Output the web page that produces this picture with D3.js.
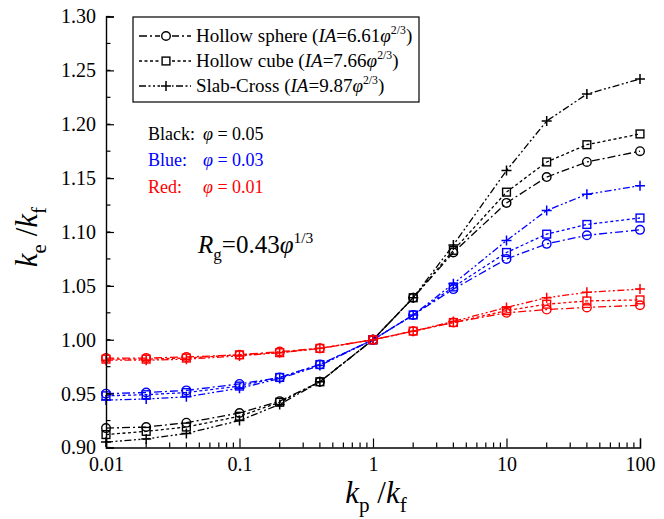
<!DOCTYPE html>
<html>
<head>
<meta charset="utf-8">
<script src="https://cdn.jsdelivr.net/npm/d3@7"></script>
<style>
  html, body { margin: 0; padding: 0; background: #fff; }
  svg { display: block; }
  svg text { font-family: "Liberation Serif", "DejaVu Serif", serif; }
</style>
</head>
<body>
<svg id="chart" width="664" height="519"></svg>
<script>
// Effective conductivity ratio vs. particle/fluid conductivity ratio
const kpRatio = [0.01, 0.02, 0.04, 0.1, 0.2, 0.4, 1, 2, 4, 10, 20, 40, 100];

// phi = 0.05 (black)
const sphere05 = [0.918, 0.919, 0.923, 0.932, 0.943, 0.961, 1.000, 1.039, 1.081, 1.127, 1.151, 1.165, 1.175];
const cube05   = [0.912, 0.915, 0.919, 0.929, 0.942, 0.961, 1.000, 1.039, 1.083, 1.137, 1.165, 1.181, 1.191];
const cross05  = [0.905, 0.908, 0.913, 0.925, 0.940, 0.961, 1.000, 1.039, 1.088, 1.157, 1.203, 1.228, 1.242];
// phi = 0.03 (blue)
const sphere03 = [0.950, 0.951, 0.953, 0.959, 0.965, 0.977, 1.000, 1.023, 1.047, 1.075, 1.089, 1.097, 1.102];
const cube03   = [0.948, 0.949, 0.951, 0.957, 0.965, 0.977, 1.000, 1.023, 1.049, 1.081, 1.098, 1.107, 1.113];
const cross03  = [0.944, 0.945, 0.947, 0.955, 0.964, 0.976, 1.000, 1.023, 1.052, 1.092, 1.120, 1.135, 1.143];
// phi = 0.01 (red)
const sphere01 = [0.983, 0.983, 0.984, 0.986, 0.989, 0.992, 1.000, 1.008, 1.016, 1.025, 1.028, 1.030, 1.032];
const cube01   = [0.982, 0.982, 0.983, 0.986, 0.988, 0.992, 1.000, 1.008, 1.016, 1.027, 1.033, 1.036, 1.037];
const cross01  = [0.981, 0.981, 0.982, 0.985, 0.988, 0.992, 1.000, 1.008, 1.017, 1.030, 1.039, 1.044, 1.047];

const xTickValues = [0.01, 0.1, 1, 10, 100];
const xTickLabels = ["0.01", "0.1", "1", "10", "100"];
const yTickValues = [0.90, 0.95, 1.00, 1.05, 1.10, 1.15, 1.20, 1.25, 1.30];

const shapes = ["sphere", "cube", "cross"];
const series = [
  { shape: "sphere", color: "#000000", values: sphere05 },
  { shape: "cube",   color: "#000000", values: cube05 },
  { shape: "cross",  color: "#000000", values: cross05 },
  { shape: "sphere", color: "#0000ff", values: sphere03 },
  { shape: "cube",   color: "#0000ff", values: cube03 },
  { shape: "cross",  color: "#0000ff", values: cross03 },
  { shape: "sphere", color: "#ff0000", values: sphere01 },
  { shape: "cube",   color: "#ff0000", values: cube01 },
  { shape: "cross",  color: "#ff0000", values: cross01 }
];
const dashes = { sphere: "8,3,2,3", cube: "3,2.5", cross: "7,2.5,2,2.5,2,2.5" };

const svg = d3.select("#chart");
const x = d3.scaleLog().domain([0.01, 100]).range([106, 640]);
const y = d3.scaleLinear().domain([0.90, 1.30]).range([447.5, 16.5]);

// marker drawing
function marker(g, shape, color) {
  if (shape === "sphere") {
    g.append("circle").attr("r", 4.3).attr("fill", "none").attr("stroke", color).attr("stroke-width", 1.4);
  } else if (shape === "cube") {
    g.append("rect").attr("x", -3.9).attr("y", -3.9).attr("width", 7.8).attr("height", 7.8)
      .attr("fill", "none").attr("stroke", color).attr("stroke-width", 1.4);
  } else {
    g.append("path").attr("d", "M-5,0H5M0,-5V5").attr("fill", "none").attr("stroke", color).attr("stroke-width", 1.5);
  }
}

// series lines and markers
const line = d3.line().x(d => x(d[0])).y(d => y(d[1]));
series.forEach(s => {
  const pts = kpRatio.map((k, i) => [k, s.values[i]]);
  svg.append("path").datum(pts).attr("d", line)
    .attr("fill", "none").attr("stroke", s.color).attr("stroke-width", 1.3)
    .attr("stroke-dasharray", dashes[s.shape]);
  pts.forEach(p => {
    const g = svg.append("g").attr("transform", `translate(${x(p[0])},${y(p[1])})`);
    marker(g, s.shape, s.color);
  });
});

// axes: left and bottom only, ticks pointing inward
const serif = "Liberation Serif, DejaVu Serif, serif";
const yMinor = d3.range(0.90, 1.3001, 0.025);
const yAxis = d3.axisLeft(y).tickValues(yTickValues).tickFormat(d3.format(".2f")).tickSize(-8).tickPadding(10);
const gy = svg.append("g").attr("transform", "translate(106,0)").call(yAxis);
gy.attr("font-family", serif).attr("font-size", 20);
gy.selectAll(".tick text").attr("fill", "#000");
gy.append("g").selectAll("line").data(yMinor).join("line")
  .attr("x1", 0).attr("x2", 4.5).attr("y1", d => y(d)).attr("y2", d => y(d)).attr("stroke", "#000").attr("stroke-width", 1.2);

const xMinor = [];
[0.01, 0.1, 1, 10].forEach(b => { for (let m = 2; m <= 9; m++) xMinor.push(b * m); });
const xAxis = d3.axisBottom(x).tickValues(xTickValues).tickFormat((d, i) => xTickLabels[i]).tickSize(-9).tickPadding(9);
const gx = svg.append("g").attr("transform", "translate(0,447.5)").call(xAxis);
gx.attr("font-family", serif).attr("font-size", 20);
gx.selectAll(".tick text").attr("fill", "#000");
gx.append("g").selectAll("line").data(xMinor).join("line")
  .attr("x1", d => x(d)).attr("x2", d => x(d)).attr("y1", 0).attr("y2", -5).attr("stroke", "#000").attr("stroke-width", 1.2);
[gx, gy].forEach(g => {
  g.selectAll(".domain").attr("stroke", "#000").attr("stroke-width", 1.4);
  g.selectAll(".tick line").attr("stroke", "#000").attr("stroke-width", 1.2);
});

// rich text helper: parts = [text, style]; styles: "", "i", "sup", "sub", "after-sup", "after-sub"
function rich(parent, xPos, yPos, size, color, parts, anchor) {
  const t = parent.append("text").attr("x", xPos).attr("y", yPos).attr("font-size", size)
    .attr("font-family", serif).attr("fill", color).attr("text-anchor", anchor || "start");
  parts.forEach(([str, st]) => {
    const ts = t.append("tspan").text(str);
    const tokens = st.split(" ");
    if (tokens.includes("i")) ts.attr("font-style", "italic");
    if (tokens.includes("sup")) ts.attr("font-size", size * 0.62).attr("dy", -size * 0.42);
    if (tokens.includes("sub")) ts.attr("font-size", size * 0.68).attr("dy", size * 0.28);
    if (tokens.includes("after-sup")) ts.attr("dy", size * 0.42);
    if (tokens.includes("after-sub")) ts.attr("dy", -size * 0.28);
  });
  return t;
}

// axis titles
const yt = svg.append("g").attr("transform", "translate(37,237) rotate(-90)");
rich(yt, 0, 0, 31, "#000", [["k", "i"], ["e", "sub"], [" /", "after-sub"], ["k", "i"], ["f", "sub"]], "middle");
rich(svg, 376, 503, 31, "#000", [["k", "i"], ["p", "sub"], [" /", "after-sub"], ["k", "i"], ["f", "sub"]], "middle");

// legend
const lg = svg.append("g");
lg.append("rect").attr("x", 133).attr("y", 17).attr("width", 286).attr("height", 85)
  .attr("fill", "#fff").attr("stroke", "#000").attr("stroke-width", 1.2);
const legendNames = ["Hollow sphere (", "Hollow cube (", "Slab-Cross ("];
const legendCoef = ["=6.61", "=7.66", "=9.87"];
shapes.forEach((sh, i) => {
  const cy = 36 + i * 25;
  lg.append("line").attr("x1", 139).attr("x2", 191).attr("y1", cy).attr("y2", cy)
    .attr("stroke", "#000").attr("stroke-width", 1.3).attr("stroke-dasharray", dashes[sh]);
  const g = lg.append("g").attr("transform", `translate(166,${cy})`);
  g.append("rect").attr("x", -6).attr("y", -6).attr("width", 12).attr("height", 12).attr("fill", "#fff");
  marker(g, sh, "#000");
  rich(lg, 196, cy + 6, 19, "#000", [[legendNames[i], ""], ["IA", "i"], [legendCoef[i], ""], ["φ", "i"], ["2/3", "sup"], [")", "after-sup"]]);
});

// phi annotations
const phiText = [["Black:", "φ", " = 0.05", "#000000", 140], ["Blue:", "φ", " = 0.03", "#0000ff", 166], ["Red:", "φ", " = 0.01", "#ff0000", 193]];
phiText.forEach(([lab, sym, val, col, yy]) => {
  svg.append("text").attr("x", 148).attr("y", yy).attr("font-size", 18).attr("font-family", serif).attr("fill", col).text(lab);
  rich(svg, 203, yy, 18, col, [[sym, "i"], [val, ""]]);
});

// radius of gyration note
rich(svg, 198, 253, 25, "#000", [["R", "i"], ["g", "sub"], ["=0.43", "after-sub"], ["φ", "i"], ["1/3", "sup"]]);
</script>
</body>
</html>
